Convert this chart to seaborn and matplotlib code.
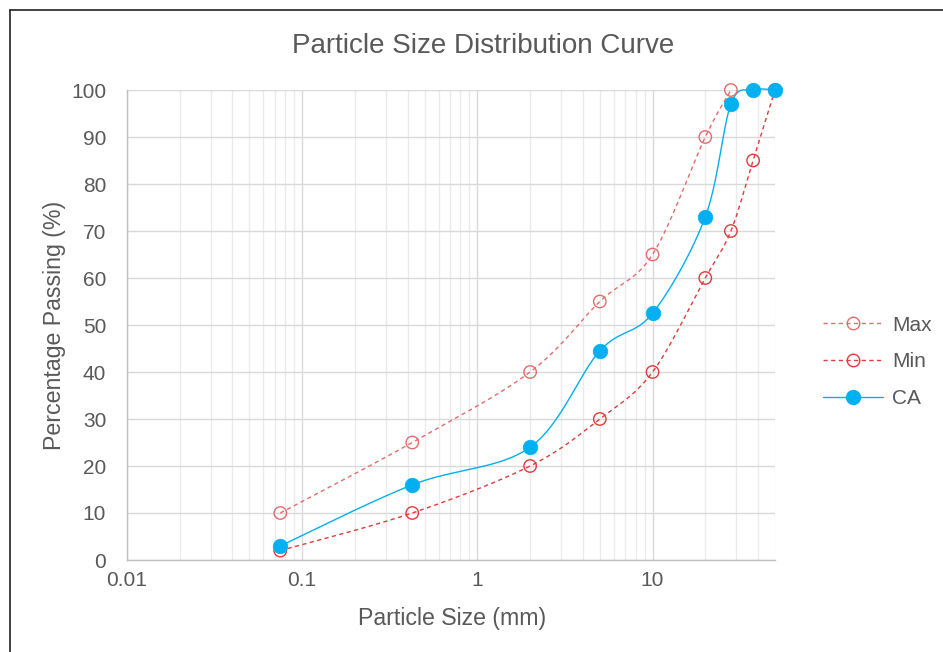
import numpy as np
import pandas as pd
import matplotlib
matplotlib.use("Agg")
import matplotlib.pyplot as plt
import seaborn as sns
from matplotlib.lines import Line2D
from matplotlib.ticker import LogLocator, NullFormatter

# Sieve sizes (mm) and percentage passing
max_size = [0.075, 0.425, 2, 5, 10, 20, 28]
max_pass = [10, 25, 40, 55, 65, 90, 100]

min_size = [0.075, 0.425, 2, 5, 10, 20, 28, 37.5, 50]
min_pass = [2, 10, 20, 30, 40, 60, 70, 85, 100]

ca_size = [0.075, 0.425, 2, 5, 10, 20, 28, 37.5, 50]
ca_pass = [3, 16, 24, 44.5, 52.5, 73, 97, 100, 100]

MAX_COLOR = "#E46C6C"
MIN_COLOR = "#E03A3A"
CA_COLOR = "#00B0F0"
TEXT_COLOR = "#595959"


def smooth_curve(xs, ys, n=30):
    """Excel-like smoothed line (Catmull-Rom in log-x space)."""
    lx = np.log10(np.asarray(xs, dtype=float))
    y = np.asarray(ys, dtype=float)
    px = np.concatenate([[lx[0]], lx, [lx[-1]]])
    py = np.concatenate([[y[0]], y, [y[-1]]])
    out_x, out_y = [], []
    t = np.linspace(0, 1, n)
    for i in range(1, len(px) - 2):
        p0, p1, p2, p3 = px[i - 1], px[i], px[i + 1], px[i + 2]
        q0, q1, q2, q3 = py[i - 1], py[i], py[i + 1], py[i + 2]
        # bezier control points
        c1x, c1y = p1 + (p2 - p0) / 6, q1 + (q2 - q0) / 6
        c2x, c2y = p2 - (p3 - p1) / 6, q2 - (q3 - q1) / 6
        bx = (1 - t) ** 3 * p1 + 3 * (1 - t) ** 2 * t * c1x + 3 * (1 - t) * t ** 2 * c2x + t ** 3 * p2
        by = (1 - t) ** 3 * q1 + 3 * (1 - t) ** 2 * t * c1y + 3 * (1 - t) * t ** 2 * c2y + t ** 3 * q2
        out_x.extend(bx)
        out_y.extend(by)
    return 10 ** np.array(out_x), np.array(out_y)


sns.set_theme(style="white")
plt.rcParams["font.family"] = ["Liberation Sans", "DejaVu Sans"]

fig = plt.figure(figsize=(9.43, 6.52), dpi=100)
ax = fig.add_axes([127 / 943, 1 - 560 / 652, (775 - 127) / 943, (560 - 90) / 652])

# smoothed lines
sx, sy = smooth_curve(max_size, max_pass)
ax.plot(sx, sy, color=MAX_COLOR, lw=1.0, ls=(0, (3, 2.5)), zorder=3, clip_on=False)
sx, sy = smooth_curve(min_size, min_pass)
ax.plot(sx, sy, color=MIN_COLOR, lw=1.0, ls=(0, (3, 2.5)), zorder=3, clip_on=False)
sx, sy = smooth_curve(ca_size, ca_pass)
ax.plot(sx, sy, color=CA_COLOR, lw=1.0, zorder=4, clip_on=False)

# markers
df_max = pd.DataFrame({"size": max_size, "pass": max_pass})
df_min = pd.DataFrame({"size": min_size, "pass": min_pass})
df_ca = pd.DataFrame({"size": ca_size, "pass": ca_pass})
sns.scatterplot(data=df_max, x="size", y="pass", ax=ax, s=80, facecolor="none",
                edgecolor=MAX_COLOR, linewidth=1.0, zorder=5, clip_on=False)
sns.scatterplot(data=df_min, x="size", y="pass", ax=ax, s=80, facecolor="none",
                edgecolor=MIN_COLOR, linewidth=1.0, zorder=5, clip_on=False)
sns.scatterplot(data=df_ca, x="size", y="pass", ax=ax, s=110, color=CA_COLOR,
                edgecolor=CA_COLOR, linewidth=0.5, zorder=6, clip_on=False)

ax.set_xscale("log")
ax.set_xlim(0.01, 50)
ax.set_ylim(0, 100)
ax.set_yticks(range(0, 101, 10))
ax.set_xticks([0.01, 0.1, 1, 10])
ax.set_xticklabels(["0.01", "0.1", "1", "10"])
ax.xaxis.set_minor_locator(LogLocator(base=10, subs=np.arange(2, 10), numticks=20))
ax.xaxis.set_minor_formatter(NullFormatter())

ax.grid(True, which="major", color="#D9D9D9", lw=1.0)
ax.grid(True, which="minor", axis="x", color="#EBEBEB", lw=1.0)
ax.set_axisbelow(True)
for side in ["top", "right"]:
    ax.spines[side].set_visible(False)
for side in ["left", "bottom"]:
    ax.spines[side].set_color("#BFBFBF")
    ax.spines[side].set_linewidth(1.0)
ax.tick_params(which="both", length=0, labelsize=15, colors=TEXT_COLOR)
ax.tick_params(axis="y", pad=15)
ax.tick_params(axis="x", pad=8)

ax.set_xlabel("Particle Size (mm)", fontsize=16.7, color=TEXT_COLOR)
ax.set_ylabel("Percentage Passing (%)", fontsize=16.7, color=TEXT_COLOR)
ax.xaxis.set_label_coords((452 - 127) / 648, -(618 - 560) / 470)
ax.yaxis.set_label_coords(-(127 - 55) / 648, 0.5)
ax.xaxis.label.set_va("center")
ax.yaxis.label.set_va("center")

fig.text(483 / 943, 1 - 46 / 652, "Particle Size Distribution Curve",
         ha="center", va="center", fontsize=20, color=TEXT_COLOR)

handles = [
    Line2D([], [], color=MAX_COLOR, lw=1.0, ls=(0, (3, 2.5)), marker="o", ms=9,
           mfc="none", mec=MAX_COLOR),
    Line2D([], [], color=MIN_COLOR, lw=1.0, ls=(0, (3, 2.5)), marker="o", ms=9,
           mfc="none", mec=MIN_COLOR),
    Line2D([], [], color=CA_COLOR, lw=1.0, marker="o", ms=10, mfc=CA_COLOR, mec=CA_COLOR),
]
fig.legend(handles, ["Max", "Min", "CA"], loc="center left",
           bbox_to_anchor=(823 / 943, 1 - 362 / 652), frameon=False, fontsize=15,
           handlelength=2.9, labelspacing=0.85, handletextpad=0.4,
           labelcolor=TEXT_COLOR, borderaxespad=0, borderpad=0)

# outer chart border (partially visible in the reference)
fig.add_artist(Line2D([10 / 943, 10 / 943], [0, 1 - 10 / 652], color="#222222", lw=1.2))
fig.add_artist(Line2D([10 / 943, 1], [1 - 10 / 652, 1 - 10 / 652], color="#222222", lw=1.2))

fig.savefig("out.png", dpi=100, facecolor="white")
